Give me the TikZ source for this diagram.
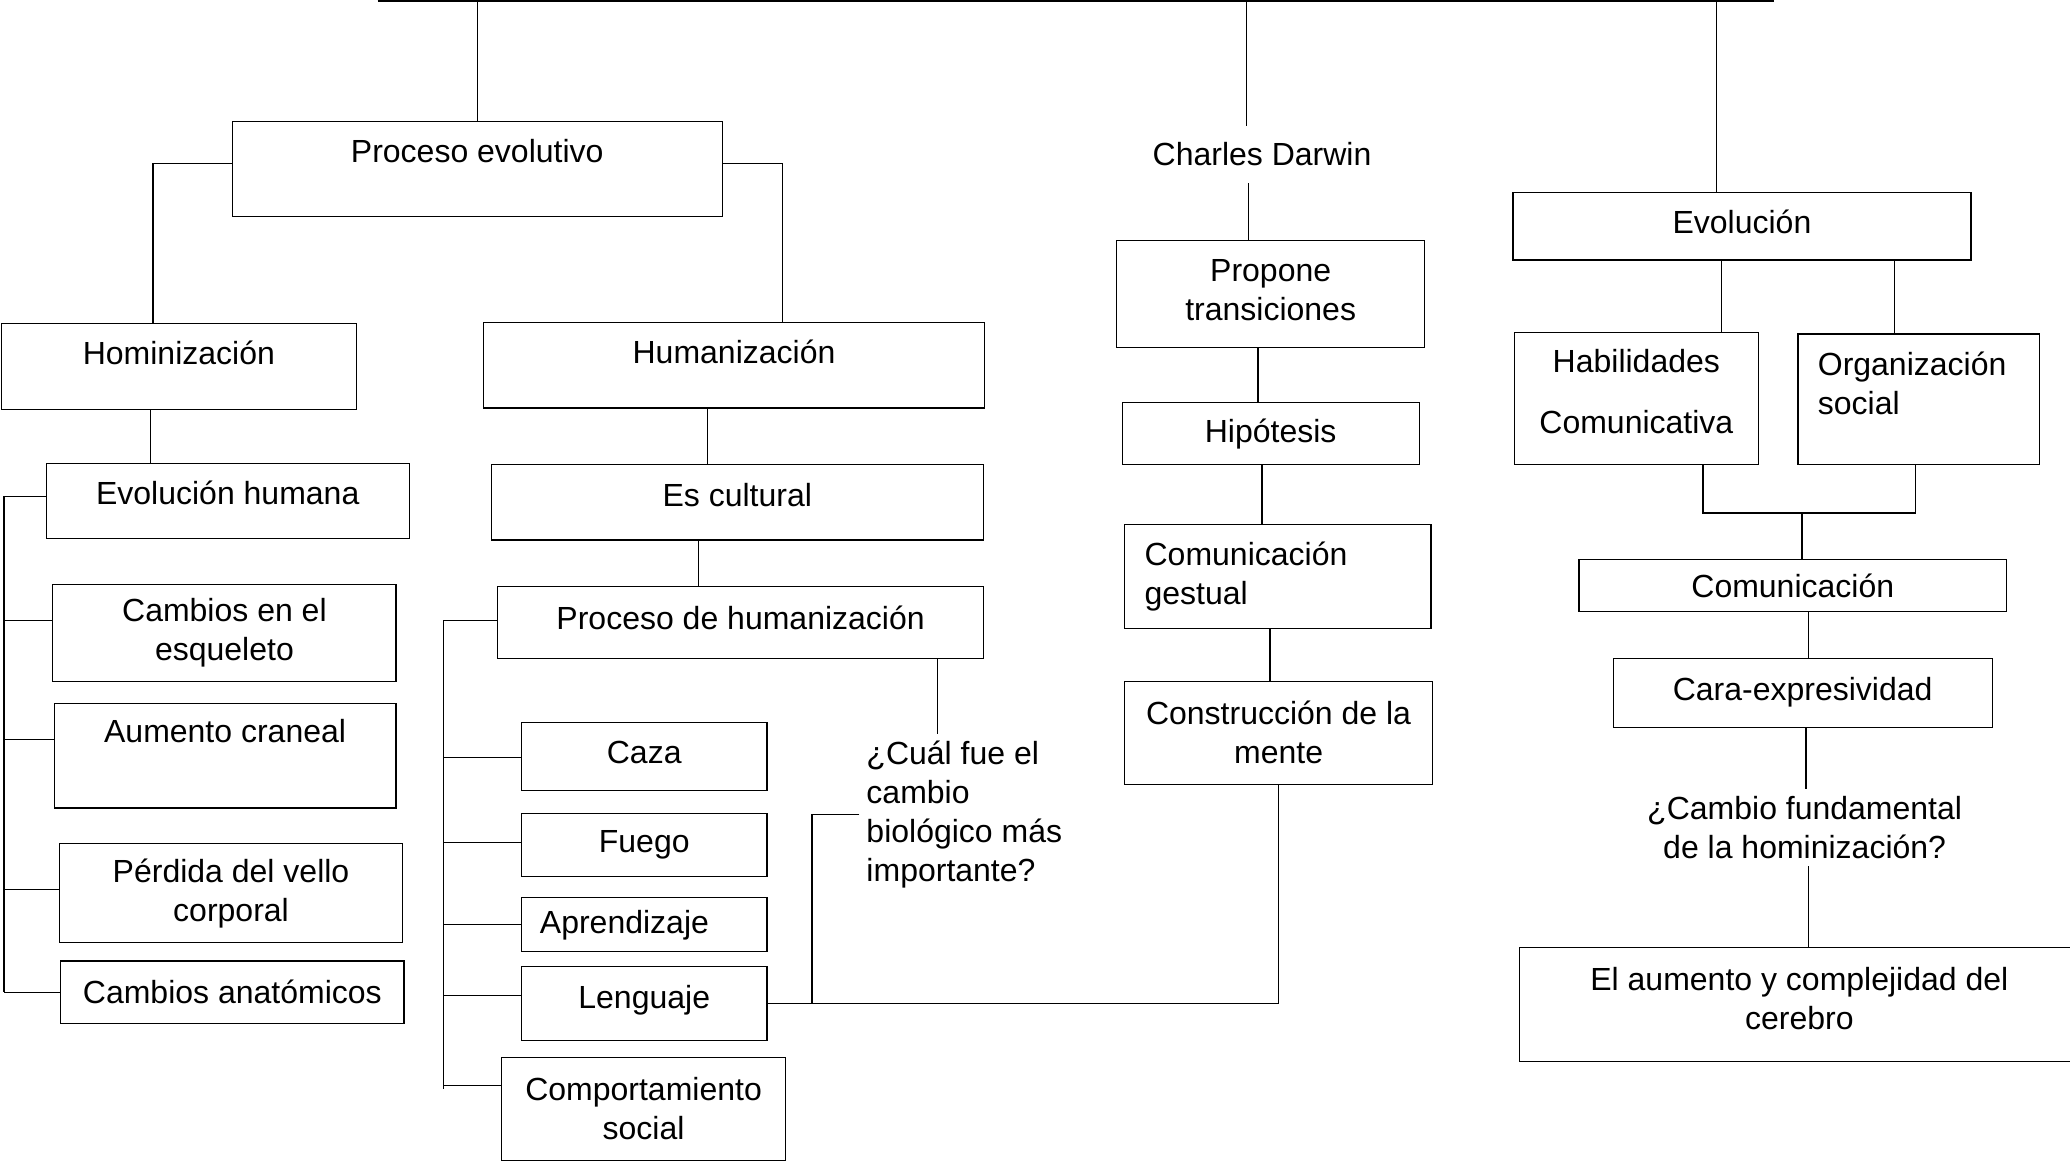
\documentclass[tikz,border=0pt]{standalone}
\usepackage{fontspec}
\setmainfont{Liberation Sans}
\newlength\pxu
\setlength\pxu{0.66pt}
\newcommand{\lift}[1]{\rule[-#1\pxu]{0pt}{#1\pxu}}
\tikzset{
  box/.style 2 args={draw, line width=0.6pt, inner sep=0pt, align=center,
    minimum width=#1*\pxu, minimum height=#2*\pxu},
  link/.style={line width=0.6pt}
}
\begin{document}
\begin{tikzpicture}[x=0.66pt, y=-0.66pt, font=\fontsize{16}{19.5}\selectfont]
  \useasboundingbox (0,0) rectangle (1568,879);
  % top bar
  \coordinate (tl) at (286,1);
  \coordinate (tr) at (1344,1);
  \coordinate (dd) at (944,1);
  \coordinate (de) at (1300,1);
  \draw[line width=1pt] (tl) -- (tr);

  % left part: hominizacion / humanizacion
  \node[box={371}{72}] (pe) at (361.5,128) {Proceso evolutivo\lift{28}};
  \node[box={269}{65}] (hom) at (135.5,277.5) {Hominización\lift{20}};
  \node[box={380}{65}] (hum) at (556,276.5) {Humanización\lift{20}};
  \node[box={275}{57}] (evh) at (172.5,379.5) {Evolución humana\lift{12}};
  \node[box={260}{73}] (ces) at (170,479.5) {Cambios en el\\esqueleto};
  \node[box={259}{79}] (acr) at (170.5,572.5) {Aumento craneal\lift{37}};
  \node[box={260}{75}] (pvc) at (175,676.5) {Pérdida del vello\\corporal};
  \node[box={260}{47}] (can) at (176,751.5) {Cambios anatómicos};
  \node[box={373}{57}] (ecu) at (558.5,380.5) {Es cultural\lift{11}};
  \node[box={368}{55}] (pdh) at (561,471.5) {Proceso de humanización\lift{7}};
  \node[box={186}{52}] (caz) at (488,573) {Caza\lift{7}};
  \node[box={186}{48}] (fue) at (488,640) {Fuego};
  \node[box={186}{41}, align=left, text width=104.3pt] (apr) at (488,700.5) {Aprendizaje};
  \node[box={186}{56}] (len) at (488,760) {Lenguaje\lift{9}};
  \node[box={215}{78}] (cso) at (487.5,840) {Comportamiento\\social};
  \node[align=left, anchor=west] (q1) at (651,617) {¿Cuál fue el\\cambio\\biológico más\\importante?};

  % Darwin
  \node[minimum height=43*\pxu, inner sep=0pt] (cd) at (956,117) {Charles Darwin};
  \node[box={233}{81}] (ptr) at (962.5,222.5) {Propone\\transiciones\lift{6}};
  \node[box={225}{47}] (hip) at (962.5,328.5) {Hipótesis};
  \node[box={232}{79}, align=left, text width=133.3pt] (cge) at (968,436.5) {Comunicación\\gestual};
  \node[box={233}{78}] (cmt) at (968.5,555) {Construcción de la\\mente};

  % right part: evolucion
  \node[box={347}{51}] (evo) at (1319.5,171.5) {Evolución\lift{7}};
  \node[box={185}{100}] (hab) at (1239.5,302) {Habilidades\\[11pt]Comunicativa\lift{11}};
  \node[box={183}{99}, align=left, text width=101pt] (org) at (1453.5,302.5) {Organización\\social\lift{24}};
  \node[box={324}{39}] (com) at (1358,443.5) {Comunicación};
  \node[box={287}{52}] (cex) at (1365.5,525) {Cara-expresividad\lift{7}};
  \node[align=center] (cfh) at (1367,627) {¿Cambio fundamental\\de la hominización?};
  \node[box={424}{86}] (acc) at (1363,761) {El aumento y complejidad del\\cerebro\lift{9}};

  % drops from the top bar
  \draw[link] (pe.north |- tl) -- (pe.north);
  \draw[link] (dd) -- (cd.north -| dd);
  \draw[link] (de) -- (evo.north -| de);

  % Proceso evolutivo
  \draw[link] ([yshift=2.6pt]pe.west) -| ([xshift=-12.9pt]hom.north);
  \draw[link] ([yshift=2.6pt]pe.east) -| ([xshift=24.4pt]hum.north);
  \draw[link] ([xshift=-14.2pt]hom.south) coordinate (h1) -- (h1 |- evh.north);

  % bracket of evolucion humana
  \coordinate (lb) at (3,376);
  \foreach \n/\s in {evh/2.3, ces/6.3, acr/8.3, pvc/1.7, can/0}
    \draw[link] ([yshift=\s pt]\n.west) coordinate (t) -- (t -| lb);
  \draw[link] (lb) -- (can.west -| lb);

  % humanizacion
  \draw[link] ([xshift=-13.2pt]hum.south) coordinate (h2) -- (h2 |- ecu.north);
  \draw[link] ([xshift=-19.5pt]ecu.south) coordinate (h3) -- (h3 |- pdh.north);
  \coordinate (rb) at (336,470);
  \coordinate (rb2) at (336,825);
  \foreach \n/\s in {pdh/1, caz/-0.7, fue/1.3, apr/0.3, len/4, cso/11.9}
    \draw[link] ([yshift=\s pt]\n.west) coordinate (t) -- (t -| rb);
  \draw[link] (rb) -- (rb2);

  % question and lenguaje
  \draw[link] ([xshift=98.3pt]pdh.south) coordinate (h4) -- (h4 |- q1.north);
  \coordinate (j1) at (615,760);
  \draw[link] (len.east) -| (cmt.south);
  \draw[link] (q1.west) -| (j1);

  % Darwin column
  \draw[link] ([xshift=-10.9pt]ptr.north) coordinate (d1) -- (d1 |- cd.south);
  \draw[link] ([xshift=-6.3pt]ptr.south) coordinate (d2) -- (d2 |- hip.north);
  \draw[link] ([xshift=-4.3pt]hip.south) coordinate (d3) -- (d3 |- cge.north);
  \draw[link] ([xshift=-4pt]cge.south) coordinate (d4) -- (d4 |- cmt.north);

  % evolucion column
  \draw[link] ([xshift=42.6pt]hab.north) coordinate (e1) -- (e1 |- evo.south);
  \draw[link] ([xshift=-12.2pt]org.north) coordinate (e2) -- (e2 |- evo.south);
  \draw[link] ([xshift=33.3pt]hab.south) -- ++(0,-23.8pt) coordinate (hb) -| ([xshift=-1.6pt]org.south);
  \draw[link] ([xshift=4.6pt]com.north) coordinate (c1) -- (c1 |- hb);
  \draw[link] ([xshift=7.9pt]com.south) coordinate (c2) -- (c2 |- cex.north);
  \draw[link] ([xshift=1.7pt]cex.south) coordinate (c3) -- (c3 |- cfh.north);
  \draw[link] ([xshift=4.6pt]acc.north) coordinate (c4) -- (c4 |- cfh.south);
\end{tikzpicture}
\end{document}
